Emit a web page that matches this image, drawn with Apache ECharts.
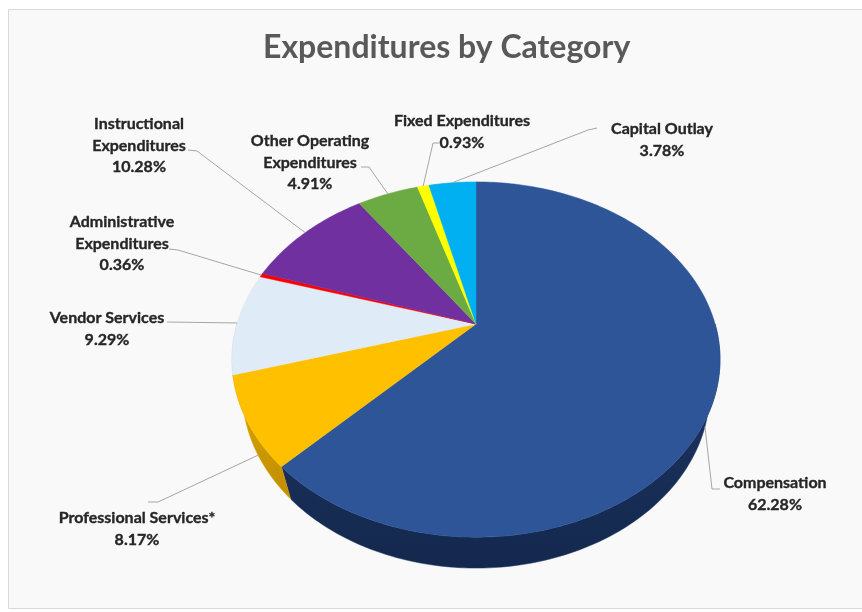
<!DOCTYPE html>
<html>
<head>
<meta charset="utf-8">
<script src="https://cdn.jsdelivr.net/npm/echarts@6/dist/echarts.min.js"></script>
<style>
  html, body { margin: 0; padding: 0; background: #ffffff; }
  #main { width: 862px; height: 612px; }
</style>
</head>
<body>
<div id="main"></div>
<script>
// Expenditure shares, clockwise from 12 o'clock
const categories = [
  'Compensation',
  'Professional Services*',
  'Vendor Services',
  'Administrative\nExpenditures',
  'Instructional\nExpenditures',
  'Other Operating\nExpenditures',
  'Fixed Expenditures',
  'Capital Outlay'
];
const shares = [62.28, 8.17, 9.29, 0.36, 10.28, 4.91, 0.93, 3.78];

const topColors     = ['#2E5597', '#FFC000', '#DFEBF7', '#FF0000', '#7030A0', '#6CAB43', '#FFFF00', '#00B0F0'];
const sideColors    = ['#1E3766', '#DCA500', '#BCCDDF', '#C00000', '#4F2170', '#4E7F30', '#CCCC00', '#0086B8'];
const sideColorsLow = ['#14284D', '#C08F00', '#A9BBCE', '#A00000', '#3E1A58', '#3D6526', '#AAAA00', '#006E98'];

// Tilted-disc camera: centre of the disc on screen, focal length, distance, elevation, thickness
const view = { cx: 476, cy: 324, f: 838, dist: 3.505, elev: 45.5, depth: 0.21 };

// Label blocks: centre x, first-line centre y, leader stub points (label side first)
const labelLayout = [
  { x: 775, y: 483, leader: [[720, 489], [712, 489]] },
  { x: 137, y: 518, leader: [[148, 502], [158, 502]] },
  { x: 107, y: 318, leader: [[167, 322]] },
  { x: 122, y: 222, leader: [[169, 249], [178, 250]] },
  { x: 139, y: 124, leader: [[188, 150], [197, 151]] },
  { x: 310, y: 141, leader: [[361, 167], [369, 167]] },
  { x: 462, y: 121, leader: [[439, 143], [433, 143]] },
  { x: 662, y: 129, leader: [[597, 128], [588, 130]] }
];

const total = shares.reduce((a, b) => a + b, 0);
const startAngles = [];
let acc = 0;
shares.forEach(v => { startAngles.push(acc / total * 360); acc += v; });

const p = Math.sin(view.elev * Math.PI / 180);
const q = Math.cos(view.elev * Math.PI / 180);

// angle in degrees clockwise from the far edge; z = 0 on top face, -depth on the base
function project(angle, z) {
  const r = angle * Math.PI / 180;
  const X = Math.sin(r), Y = Math.cos(r);
  const yc = Y * p + z * q;
  const zc = view.dist + Y * q - z * p;
  return [view.cx + view.f * X / zc, view.cy - view.f * yc / zc];
}
function arc(a0, a1, z) {
  const pts = [];
  const n = Math.max(2, Math.ceil(Math.abs(a1 - a0)));
  for (let k = 0; k <= n; k++) pts.push(project(a0 + (a1 - a0) * k / n, z));
  return pts;
}

function renderSlice(params) {
  const i = params.dataIndex;
  const a0 = startAngles[i];
  const a1 = a0 + shares[i] / total * 360;
  const children = [];

  // front wall (only the near half of the rim is visible)
  const s = Math.max(a0, 90), e = Math.min(a1, 270);
  if (e > s) {
    const pts = arc(s, e, 0).concat(arc(e, s, -view.depth));
    children.push({
      type: 'polygon', z2: 1,
      shape: { points: pts },
      style: {
        fill: {
          type: 'linear', x: 0, y: 0, x2: 0, y2: 1,
          colorStops: [
            { offset: 0, color: sideColors[i] },
            { offset: 1, color: sideColorsLow[i] }
          ]
        },
        stroke: sideColors[i], lineWidth: 0.5
      }
    });
  }

  // top face
  const topPts = [[view.cx, view.cy]].concat(arc(a0, a1, 0));
  children.push({
    type: 'polygon', z2: 2,
    shape: { points: topPts },
    style: { fill: topColors[i], stroke: topColors[i], lineWidth: 0.5 }
  });

  // leader line from the slice's mid angle to the label
  const mid = (a0 + a1) / 2;
  const nearSide = Math.cos(mid * Math.PI / 180) < 0;
  const anchor = project(mid, nearSide ? -view.depth : 0);
  const lay = labelLayout[i];
  children.push({
    type: 'polyline', z2: 3,
    shape: { points: lay.leader.concat([anchor]) },
    style: { stroke: '#A6A6A6', lineWidth: 1, fill: null }
  });

  // label: category name and share
  const lineH = 21.5;
  children.push({
    type: 'text', z2: 4,
    style: {
      text: categories[i] + '\n' + shares[i].toFixed(2) + '%',
      x: lay.x, y: lay.y - lineH / 2,
      align: 'center', verticalAlign: 'top',
      fontFamily: 'Lato', fontWeight: 'bold', fontSize: 16,
      lineHeight: lineH, fill: '#262626',
      stroke: '#262626', lineWidth: 0.35
    }
  });

  return { type: 'group', children };
}

const chart = echarts.init(document.getElementById('main'));
chart.setOption({
  animation: false,
  backgroundColor: '#ffffff',
  graphic: [{
    type: 'rect', z: -10,
    shape: { x: 8.5, y: 9.5, width: 870, height: 599 },
    style: { fill: '#F9F9F9', stroke: '#D9D9D9', lineWidth: 1 }
  }],
  title: {
    text: 'Expenditures by Category',
    left: 258, top: 27,
    textStyle: { fontFamily: 'Lato', fontWeight: 'bold', fontSize: 32, color: '#595959' }
  },
  series: [{
    type: 'custom',
    coordinateSystem: 'none',
    silent: true,
    data: shares.map((v, i) => [i, v]),
    renderItem: renderSlice
  }]
});
</script>
</body>
</html>
